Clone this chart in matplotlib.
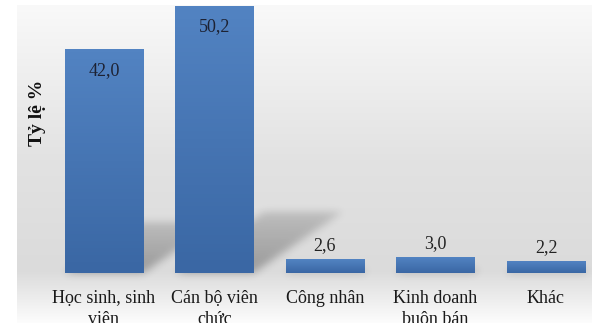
import numpy as np
import matplotlib
matplotlib.use('Agg')
import matplotlib.pyplot as plt

plt.rcParams['font.family'] = ['Liberation Serif', 'DejaVu Serif']

categories = ['Học sinh, sinh\nviên', 'Cán bộ viên\nchức', 'Công nhân', 'Kinh doanh\nbuôn bán', 'Khác']
values = [42.0, 50.2, 2.6, 3.0, 2.2]
value_labels = ['42,0', '50,2', '2,6', '3,0', '2,2']
ylabel = 'Tỷ lệ %'

W, H = 592, 323
fig = plt.figure(figsize=(W / 100, H / 100), dpi=100)
fig.patch.set_facecolor('white')

# plot area starts 17px from the left and 5px from the top
ax = fig.add_axes([17 / W, 0, (W - 17) / W, (H - 5) / H])
ax.axis('off')

px_per_unit = 5.31      # vertical scale
px_per_cat = 110.5      # distance between bars
base_px = 50            # baseline height above the bottom
first_px = 104 - 17     # centre of first bar from axes left
xlim = (-first_px / px_per_cat, (W - 17 - first_px) / px_per_cat)
ylim = (-base_px / px_per_unit, (H - 5 - base_px) / px_per_unit)

# grey background gradient (light top, darker around the floor, fading below)
stops_y = np.array([0.0, 155.0, 265.0, 318.0])   # px from axes top
stops_v = np.array([249, 226, 219, 253]) / 255
rows = np.interp(np.arange(318), stops_y, stops_v)
bg = np.repeat(rows[:, None], 4, axis=1)
bg = np.dstack([bg, bg, bg])
ax.imshow(bg, extent=[xlim[0], xlim[1], ylim[0], ylim[1]], aspect='auto', zorder=0, interpolation='bilinear')

width = 0.71
x = np.arange(len(values))

# soft floor shadow cast up and to the right
shear = 0.0701
shadow_h = 0.229
nx, ny = W - 17, H - 5
gx = np.linspace(xlim[0], xlim[1], nx)
gy = np.linspace(ylim[1], ylim[0], ny)
XX, YY = np.meshgrid(gx, gy)
mask = np.zeros_like(XX)
for xi, v in zip(x, values):
    x0 = xi - width / 2 + shear * YY
    x1 = xi + width / 2 + shear * YY
    inside = (YY >= 0) & (YY <= shadow_h * v) & (XX >= x0) & (XX <= x1)
    fade = 1 - 0.5 * np.clip(YY / (shadow_h * v), 0, 1)
    mask = np.maximum(mask, inside * fade)

def blur(a, s):
    k = np.exp(-0.5 * (np.arange(-3 * s, 3 * s + 1) / s) ** 2)
    k /= k.sum()
    a = np.apply_along_axis(lambda r: np.convolve(r, k, mode='same'), 1, a)
    a = np.apply_along_axis(lambda c: np.convolve(c, k, mode='same'), 0, a)
    return a

mask = blur(mask, 4)
shadow = np.zeros((ny, nx, 4))
shadow[..., 3] = mask * 0.3
ax.imshow(shadow, extent=[xlim[0], xlim[1], ylim[0], ylim[1]], aspect='auto', zorder=1)

# bars with a vertical blue gradient
top_c = np.array([82, 131, 194]) / 255
bot_c = np.array([58, 103, 164]) / 255
grad = np.linspace(0, 1, 64)[:, None]
grad_img = top_c[None, None, :] * (1 - grad[..., None]) + bot_c[None, None, :] * grad[..., None]
grad_img = np.repeat(grad_img, 2, axis=1)
bars = ax.bar(x, values, width=width, color='#4a7ab8', zorder=2)
for b, v in zip(bars, values):
    x0 = b.get_x()
    ax.imshow(grad_img, extent=[x0, x0 + width, 0, v], aspect='auto', zorder=3)

for xi, v, lab in zip(x, values, value_labels):
    if v > 20:
        off, c = -14.5, '#1d2233'
    else:
        off, c = 10, '#222222'
    ax.annotate(lab, (xi, v), xytext=(0, off), textcoords='offset points',
                ha='center', va='center', fontsize=13, color=c, zorder=5)

for xi, lab in zip(x, categories):
    ax.annotate(lab, (xi, 0), xytext=(0, -12.5), textcoords='offset points',
                ha='center', va='top', fontsize=13, color='#1a1a1a',
                linespacing=1.3, zorder=5, annotation_clip=False)

fig.text(37 / W, 1 - 113 / H, ylabel, rotation=90, ha='center', va='center',
         fontsize=14, fontweight='bold', color='#111111')

ax.set_xlim(*xlim)
ax.set_ylim(*ylim)

fig.savefig('out.png', dpi=100)
